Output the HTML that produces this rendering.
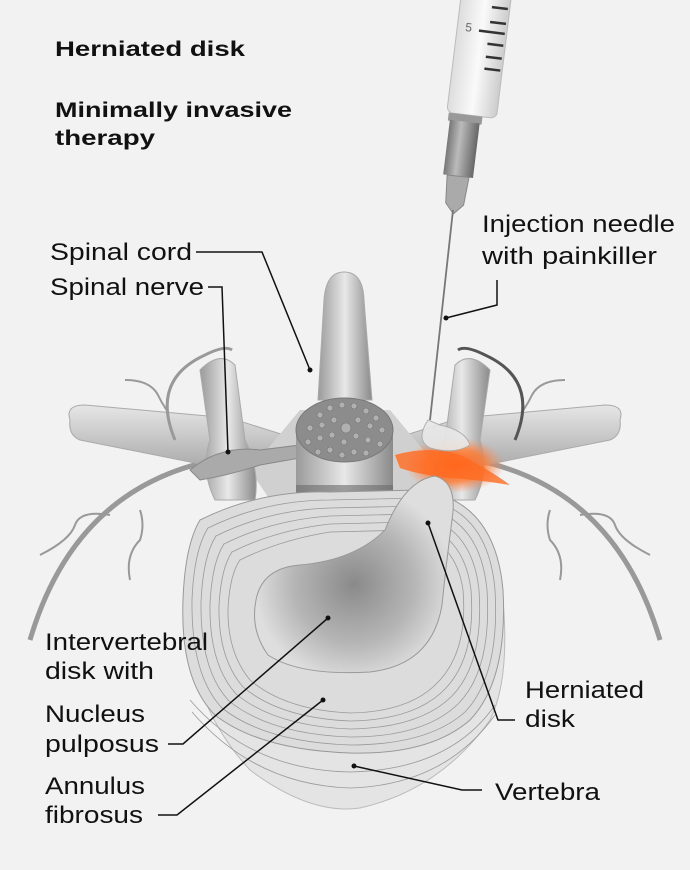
<!DOCTYPE html>
<html><head><meta charset="utf-8"><style>
html,body{margin:0;padding:0;background:#f2f2f2}
svg{display:block}
text{font-family:"Liberation Sans",Arial,sans-serif;fill:#111}
.b{font-weight:bold;font-size:21px}
.r{font-size:24px}
.l{stroke:#111;stroke-width:1.5;fill:none}
</style></head><body>
<svg width="690" height="870" viewBox="0 0 690 870" xmlns="http://www.w3.org/2000/svg">
<defs>
<linearGradient id="g1" x1="0" x2="1"><stop offset="0" stop-color="#9a9a9a"/><stop offset="0.5" stop-color="#e8e8e8"/><stop offset="1" stop-color="#8a8a8a"/></linearGradient>
<linearGradient id="g2" x1="0" y1="0" x2="0" y2="1"><stop offset="0" stop-color="#e6e6e6"/><stop offset="1" stop-color="#a8a8a8"/></linearGradient>
<radialGradient id="gl"><stop offset="0" stop-color="#ff5a10"/><stop offset="0.6" stop-color="#ff7a30" stop-opacity="0.8"/><stop offset="1" stop-color="#ff9060" stop-opacity="0"/></radialGradient>
<radialGradient id="nuc" cx="0.5" cy="0.55"><stop offset="0" stop-color="#8a8a8a"/><stop offset="0.6" stop-color="#b5b5b5"/><stop offset="1" stop-color="#dedede"/></radialGradient>
<linearGradient id="syr" x1="0" x2="1"><stop offset="0" stop-color="#ddd"/><stop offset="0.5" stop-color="#fafafa"/><stop offset="1" stop-color="#ccc"/></linearGradient>
<linearGradient id="hub" x1="0" x2="1"><stop offset="0" stop-color="#777"/><stop offset="0.4" stop-color="#bbb"/><stop offset="1" stop-color="#666"/></linearGradient>
</defs>
<rect width="690" height="870" fill="#f2f2f2"/>

<path d="M30 640 Q80 470 250 455" stroke="#999" stroke-width="5" fill="none"/>
<path d="M660 640 Q610 470 440 455" stroke="#999" stroke-width="5" fill="none"/>
<path d="M40 555 Q70 540 75 525 Q80 510 110 515 M130 580 Q125 555 140 540 Q145 525 140 510" stroke="#999" stroke-width="2" fill="none"/>
<path d="M650 555 Q620 540 615 525 Q610 510 580 515 M560 580 Q565 555 550 540 Q545 525 550 510" stroke="#999" stroke-width="2" fill="none"/>
<path d="M125 380 Q150 380 158 395 Q165 410 175 420" stroke="#999" stroke-width="2" fill="none"/>
<path d="M565 380 Q540 380 532 395 Q525 410 515 420" stroke="#999" stroke-width="2" fill="none"/>

<path d="M70 420 Q65 405 85 405 L230 418 L300 440 L300 470 L230 470 L80 440 Q68 435 70 420Z" fill="url(#g2)" stroke="#aaa"/>
<path d="M620 420 Q625 405 605 405 L460 418 L390 440 L390 470 L460 470 L610 440 Q622 435 620 420Z" fill="url(#g2)" stroke="#aaa"/>
<path d="M250 470 L300 410 L390 410 L440 470 L420 500 L270 500Z" fill="#d0d0d0"/>
<path d="M200 370 Q220 350 235 365 L245 440 Q260 470 255 500 L215 500 Q200 470 210 440 Z" fill="url(#g1)" stroke="#aaa"/>
<path d="M490 370 Q470 350 455 365 L445 440 Q430 470 435 500 L475 500 Q490 470 480 440 Z" fill="url(#g1)" stroke="#aaa"/>
<path d="M175 440 Q150 380 205 355 Q225 345 232 350" stroke="#999" stroke-width="3" fill="none"/>
<path d="M515 440 Q540 380 485 355 Q465 345 458 350" stroke="#555" stroke-width="3" fill="none"/>
<path d="M324 300 Q326 272 344 272 Q363 272 364 300 L372 400 L318 400Z" fill="url(#g1)" stroke="#aaa"/>
<path d="M190 470 Q220 445 260 450 L300 445 L300 458 L260 465 Q230 475 200 480Z" fill="#aaa" stroke="#888"/>

<rect x="296" y="430" width="97" height="85" fill="url(#g1)"/>
<rect x="296" y="485" width="97" height="30" fill="#6a6a6a" opacity="0.6"/>
<ellipse cx="344.5" cy="430" rx="48.5" ry="32" fill="#8c8c8c" stroke="#777"/>
<g fill="#b0b0b0" stroke="#777" stroke-width="0.6">
<circle cx="320" cy="415" r="3"/><circle cx="330" cy="408" r="3"/><circle cx="342" cy="405" r="3"/><circle cx="354" cy="406" r="3"/><circle cx="366" cy="411" r="3"/><circle cx="376" cy="418" r="3"/>
<circle cx="310" cy="428" r="3"/><circle cx="322" cy="425" r="3"/><circle cx="334" cy="420" r="3"/><circle cx="346" cy="428" r="5"/><circle cx="358" cy="420" r="3"/><circle cx="370" cy="426" r="3"/><circle cx="382" cy="430" r="3"/>
<circle cx="308" cy="442" r="3"/><circle cx="320" cy="438" r="3"/><circle cx="332" cy="435" r="3"/><circle cx="344" cy="442" r="3"/><circle cx="356" cy="436" r="3"/><circle cx="368" cy="440" r="3"/><circle cx="380" cy="444" r="3"/>
<circle cx="318" cy="452" r="3"/><circle cx="330" cy="450" r="3"/><circle cx="342" cy="455" r="3"/><circle cx="354" cy="452" r="3"/><circle cx="366" cy="453" r="3"/>
</g>

<ellipse cx="455" cy="465" rx="50" ry="28" fill="url(#gl)"/>
<path d="M395 455 Q430 445 460 455 Q490 470 510 485 Q480 480 450 478 Q420 475 400 468Z" fill="#ff6a20" opacity="0.8"/>

<path d="M188 600 Q185 700 250 770 Q310 815 360 808 Q440 790 490 720 Q510 680 503 600 Z" fill="#e4e4e4" stroke="#bbb"/>
<path d="M200 520 Q260 490 330 492 L420 490 Q495 500 503 590 Q508 680 470 720 Q430 755 350 753 Q260 750 215 715 Q180 680 183 600 Q185 545 200 520Z" fill="#dcdcdc" stroke="#999"/>
<g fill="none" stroke="#999" stroke-width="0.8">
<path d="M208 528 Q265 500 330 500 L420 498 Q488 508 495 590 Q500 675 465 712 Q428 745 350 745 Q265 742 222 708 Q191 675 192 600 Q194 550 208 528Z"/>
<path d="M216 536 Q268 510 330 508 L418 506 Q480 516 487 590 Q492 670 458 704 Q424 737 350 737 Q270 734 229 701 Q200 670 201 602 Q203 556 216 536Z"/>
<path d="M224 544 Q272 520 330 516 L415 514 Q472 524 479 590 Q484 663 452 696 Q420 728 350 729 Q275 726 236 694 Q209 664 210 604 Q212 562 224 544Z"/>
<path d="M232 552 Q276 530 330 524 L412 522 Q464 532 471 590 Q476 656 446 688 Q416 720 350 721 Q280 718 243 687 Q218 658 219 606 Q221 568 232 552Z"/>
<path d="M240 560 Q280 540 330 532 L409 530 Q456 540 463 590 Q468 649 440 680 Q412 712 350 713 Q285 710 250 680 Q227 652 228 608 Q230 574 240 560Z"/>
<path d="M190 700 Q250 770 350 772 Q450 770 495 705"/>
<path d="M192 712 Q255 785 350 788 Q445 785 495 715"/>
</g>
<path d="M256 600 Q262 568 300 565 Q355 560 385 530 Q405 480 435 476 Q458 482 452 520 Q446 565 442 605 Q432 665 370 672 Q300 676 268 655 Q250 630 256 600Z" fill="url(#nuc)" stroke="#999"/>

<g transform="translate(8 0) rotate(7 460 120)">
<rect x="438" y="-10" width="50" height="125" rx="6" fill="url(#syr)" stroke="#bbb"/>
<g stroke="#333" stroke-width="2.5"><line x1="470" y1="5" x2="486" y2="5"/><line x1="470" y1="20" x2="486" y2="20"/><line x1="460" y1="30" x2="486" y2="30"/><line x1="470" y1="42" x2="486" y2="42"/><line x1="470" y1="55" x2="486" y2="55"/><line x1="470" y1="67" x2="486" y2="67"/></g>
<text x="446" y="32" style="font-size:12px;fill:#666">5</text>
<rect x="440" y="115" width="34" height="8" fill="#999"/>
<rect x="442" y="122" width="30" height="55" fill="url(#hub)"/>
<path d="M446 177 L468 177 L466 205 L457 215 L448 205Z" fill="#aaa" stroke="#888"/>
</g>
<line x1="453" y1="210" x2="430" y2="420" stroke="#777" stroke-width="1.8"/>
<path d="M428 420 Q415 440 430 448 Q455 455 470 445 Q465 430 440 425Z" fill="#e8e8e8" stroke="#aaa" opacity="0.9"/>

<path class="l" d="M196 252 L262 252 L310 370"/>
<path class="l" d="M208 287 L222 287 L228 452"/>
<path class="l" d="M497 280 L497 305 L446 318"/>
<path class="l" d="M168 744 L183 744 L328 618"/>
<path class="l" d="M158 815 L177 815 L323 700"/>
<path class="l" d="M515 720 L498 720 L428 523"/>
<path class="l" d="M482 790 L462 790 L354 766"/>
<g fill="#111"><circle cx="310" cy="370" r="2.5"/><circle cx="228" cy="452" r="2.5"/><circle cx="446" cy="318" r="2.5"/><circle cx="328" cy="618" r="2.5"/><circle cx="323" cy="700" r="2.5"/><circle cx="428" cy="523" r="2.5"/><circle cx="354" cy="766" r="2.5"/></g>

<g lengthAdjust="spacingAndGlyphs">
<text class="b" x="55" y="56" textLength="190" lengthAdjust="spacingAndGlyphs">Herniated disk</text>
<text class="b" x="55" y="117" textLength="237" lengthAdjust="spacingAndGlyphs">Minimally invasive</text>
<text class="b" x="55" y="145" textLength="100" lengthAdjust="spacingAndGlyphs">therapy</text>
<text class="r" x="50" y="260" textLength="142" lengthAdjust="spacingAndGlyphs">Spinal cord</text>
<text class="r" x="50" y="295" textLength="154" lengthAdjust="spacingAndGlyphs">Spinal nerve</text>
<text class="r" x="482" y="232" textLength="193" lengthAdjust="spacingAndGlyphs">Injection needle</text>
<text class="r" x="482" y="264" textLength="175" lengthAdjust="spacingAndGlyphs">with painkiller</text>
<text class="r" x="45" y="650" textLength="163" lengthAdjust="spacingAndGlyphs">Intervertebral</text>
<text class="r" x="45" y="679" textLength="109" lengthAdjust="spacingAndGlyphs">disk with</text>
<text class="r" x="45" y="722" textLength="100" lengthAdjust="spacingAndGlyphs">Nucleus</text>
<text class="r" x="45" y="752" textLength="114" lengthAdjust="spacingAndGlyphs">pulposus</text>
<text class="r" x="45" y="794" textLength="100" lengthAdjust="spacingAndGlyphs">Annulus</text>
<text class="r" x="45" y="823" textLength="98" lengthAdjust="spacingAndGlyphs">fibrosus</text>
<text class="r" x="525" y="698" textLength="119" lengthAdjust="spacingAndGlyphs">Herniated</text>
<text class="r" x="525" y="727" textLength="50" lengthAdjust="spacingAndGlyphs">disk</text>
<text class="r" x="495" y="800" textLength="105" lengthAdjust="spacingAndGlyphs">Vertebra</text>
</g>
</svg>
</body></html>
